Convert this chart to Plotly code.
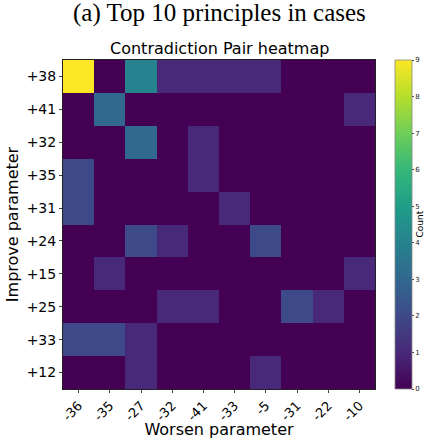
import plotly.graph_objects as go

worsen = ["-36", "-35", "-27", "-32", "-41", "-33", "-5", "-31", "-22", "-10"]
improve = ["+38", "+41", "+32", "+35", "+31", "+24", "+15", "+25", "+33", "+12"]
counts = [
    [9, 0, 4, 1, 1, 1, 1, 0, 0, 0],
    [0, 3, 0, 0, 0, 0, 0, 0, 0, 1],
    [0, 0, 3, 0, 1, 0, 0, 0, 0, 0],
    [2, 0, 0, 0, 1, 0, 0, 0, 0, 0],
    [2, 0, 0, 0, 0, 1, 0, 0, 0, 0],
    [0, 0, 2, 1, 0, 0, 2, 0, 0, 0],
    [0, 1, 0, 0, 0, 0, 0, 0, 0, 1],
    [0, 0, 0, 1, 1, 0, 0, 2, 1, 0],
    [2, 2, 1, 0, 0, 0, 0, 0, 0, 0],
    [0, 0, 1, 0, 0, 0, 1, 0, 0, 0],
]

L, R, T, B = 63, 375, 60, 389
W, H = 430, 439

fig = go.Figure(go.Heatmap(
    z=counts, x=worsen, y=improve,
    colorscale="Viridis", zmin=0, zmax=9,
    colorbar=dict(
        x=(395 - L) / (R - L), xanchor="left", xref="paper", xpad=0, ypad=0,
        y=1, yanchor="top", yref="paper",
        len=1, lenmode="fraction", thickness=17,
        outlinewidth=0.8, outlinecolor="#888",
        tickvals=list(range(10)), ticks="outside", ticklen=2,
        tickfont=dict(size=7, family="DejaVu Sans", color="#222"),
    ),
))

fig.update_layout(
    width=W, height=H,
    margin=dict(l=L, r=W - R, t=T, b=H - B, autoexpand=False),
    paper_bgcolor="white", plot_bgcolor="white",
    font=dict(family="DejaVu Sans", color="black"),
    annotations=[
        dict(text="(a) Top 10 principles in cases", x=0.5, y=1, xref="paper", yref="paper",
             yanchor="bottom", yshift=31, showarrow=False,
             font=dict(family="Liberation Serif", size=25)),
        dict(text="Contradiction Pair heatmap", x=0.5, y=1.0, xref="paper", yref="paper",
             yanchor="bottom", yshift=0, showarrow=False, font=dict(size=16)),
        dict(text="Count", x=(426 - L) / (R - L), y=0.5, xref="paper", yref="paper",
             textangle=-90, showarrow=False, font=dict(size=9)),
    ],
    xaxis=dict(title=dict(text="Worsen parameter", font=dict(size=16), standoff=0),
               automargin=False,
               tickangle=-45, tickfont=dict(size=13), ticks="outside", ticklen=3,
               showline=True, linecolor="#222", mirror=True, showgrid=False),
    yaxis=dict(title=dict(text="Improve parameter", font=dict(size=16), standoff=4),
               automargin=False,
               autorange="reversed", tickfont=dict(size=14), ticks="outside", ticklen=3,
               showline=True, linecolor="#222", mirror=True, showgrid=False),
)
fig.write_html("out.html", config={"displayModeBar": False},
               post_script="document.body.style.margin='0';document.body.style.overflow='hidden';")
